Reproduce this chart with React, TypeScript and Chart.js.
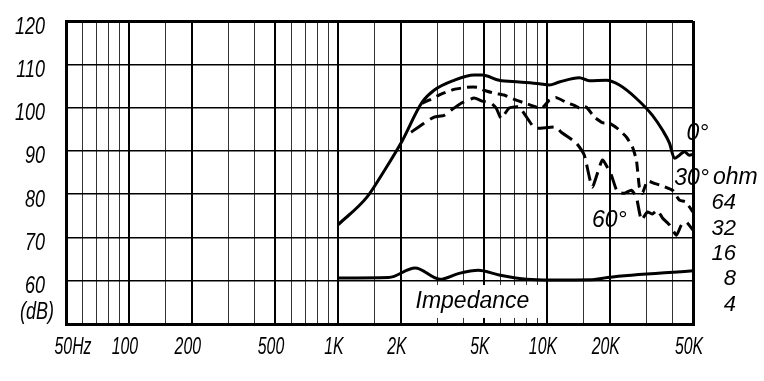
import React, { useEffect, useRef } from 'react';
import { Chart, registerables } from 'chart.js';

Chart.register(...registerables);

// ---- Axes ----
const gridFreqs = [50, 60, 70, 80, 90, 100, 150, 200, 300, 400, 500, 600, 700, 800, 900, 1000, 1500, 2000, 3000, 4000, 5000, 6000, 7000, 8000, 9000, 10000, 15000, 20000, 30000, 40000, 50000];
const labelFreqs = [50, 100, 200, 500, 1000, 2000, 5000, 10000, 20000, 50000];
const freqTickLabels = ['50Hz', '100', '200', '500', '1K', '2K', '5K', '10K', '20K', '50K'];
const dbTicks = [50, 60, 70, 80, 90, 100, 110, 120];
const dbTickLabels = ['', '60', '70', '80', '90', '100', '110', '120'];
const ohmTicks = [4, 8, 16, 32, 64];

// ---- 0° response ----
const freq0 = [1000, 1377, 1661, 2004, 2526, 2884, 3597, 4485, 4898, 5910, 7368, 9188, 10260, 11460, 14290, 15950, 19240, 22220, 26800, 31980, 35710, 38580, 40760, 43060, 45510, 48080, 50000];
const spl0 = [72.9, 79.3, 85.3, 91.8, 101.2, 104.0, 106.3, 107.5, 107.5, 106.3, 105.9, 105.5, 105.2, 105.9, 106.9, 106.2, 106.3, 105.2, 102.1, 98.2, 94.8, 91.8, 88.3, 89.0, 89.8, 89.0, 89.2];

// ---- 30° response ----
const freq30 = [2526, 2730, 3116, 3597, 4152, 4636, 5008, 5594, 6245, 6971, 7874, 8891, 9497, 10260, 11080, 12380, 13520, 14290, 15430, 16860, 18420, 19890, 21730, 24000, 25640, 26800, 27700, 28630, 30250, 32690, 35710, 39870, 43060, 46020, 50000];
const spl30 = [101.0, 101.7, 103.1, 104.2, 104.7, 104.7, 104.0, 103.3, 102.9, 101.9, 101.0, 100.1, 99.9, 101.7, 102.3, 101.2, 100.5, 99.9, 100.1, 97.8, 96.5, 96.4, 95.2, 93.2, 90.9, 87.9, 81.6, 80.2, 83.0, 82.5, 81.9, 80.9, 78.6, 78.2, 75.9];

// ---- 60° response ----
const freq60 = [2238, 2583, 2884, 3221, 3479, 3886, 4485, 4898, 5411, 5718, 6041, 6598, 7368, 8510, 8990, 11080, 11710, 13820, 15100, 16490, 18420, 20330, 21730, 23480, 25360, 26800, 28310, 30250, 31980, 33790, 35710, 38580, 41670, 44020, 46530, 50000];
const spl60 = [94.3, 96.4, 97.8, 98.2, 99.4, 101.0, 102.2, 101.5, 101.0, 99.9, 97.5, 99.9, 100.1, 95.9, 95.2, 95.5, 94.3, 91.8, 89.0, 81.6, 87.9, 84.4, 80.5, 80.2, 80.9, 79.3, 74.0, 75.9, 75.4, 76.3, 74.5, 72.9, 70.5, 72.9, 73.5, 71.7];

// ---- Impedance (ohm) ----
const freqImp = [1000, 1750, 2340, 3080, 3800, 4700, 5900, 8000, 10500, 16500, 19500, 50000];
const ohmImp = [8.3, 8.4, 10.9, 8.0, 9.4, 10.2, 9.0, 8.0, 7.85, 7.9, 8.4, 10.1];

const SANS = "'Liberation Sans', Arial, sans-serif";

const pts = (xs: number[], ys: number[]) => xs.map((x, i) => ({ x, y: ys[i] }));

// condensed italic text (the source uses a narrow typeface)
function narrowText(ctx: CanvasRenderingContext2D, text: string, x: number, y: number, align: CanvasTextAlign, sx: number) {
  ctx.save();
  ctx.translate(x, y);
  ctx.scale(sx, 1);
  ctx.textAlign = align;
  ctx.textBaseline = 'alphabetic';
  ctx.fillText(text, 0, 0);
  ctx.restore();
}

const annotations = {
  id: 'annotations',
  beforeDatasetsDraw(chart: any) {
    const { ctx, scales } = chart;
    const x = scales.x, y = scales.y;
    const x0 = x.getPixelForValue(2000) + 2;
    const x1 = x.getPixelForValue(10000) - 1;
    const y0 = y.getPixelForValue(59.0);
    const y1 = y.getPixelForValue(51.4);
    ctx.save();
    ctx.fillStyle = '#fff';
    ctx.fillRect(x0, y0, x1 - x0, y1 - y0);
    ctx.fillStyle = '#000';
    ctx.font = `italic 23px ${SANS}`;
    ctx.textAlign = 'center';
    ctx.textBaseline = 'middle';
    ctx.fillText('Impedance', x.getPixelForValue(4400), y.getPixelForValue(55.2));
    ctx.restore();
  },
  afterDraw(chart: any) {
    const { ctx, scales, chartArea } = chart;
    const x = scales.x, y = scales.y, y2 = scales.y2;
    ctx.save();
    ctx.fillStyle = '#000';
    // axis tick labels (condensed italic)
    ctx.font = `italic 24px ${SANS}`;
    labelFreqs.forEach((f, i) => {
      const px = x.getPixelForValue(f);
      const dx = i === 0 ? 7 : -4;
      narrowText(ctx, freqTickLabels[i], px + dx, chartArea.bottom + 30, 'center', 0.66);
    });
    dbTicks.forEach((v, i) => {
      if (!dbTickLabels[i]) return;
      narrowText(ctx, dbTickLabels[i], chartArea.left - 21, y.getPixelForValue(v) + 12.5, 'right', 0.75);
    });
    narrowText(ctx, '(dB)', chartArea.left - 12, y.getPixelForValue(52.8) + 7, 'right', 0.75);

    // curve and axis annotations
    ctx.font = `italic 23px ${SANS}`;
    ctx.textBaseline = 'middle';
    ctx.textAlign = 'left';
    ctx.fillText('0°', x.getPixelForValue(46500), y.getPixelForValue(93.9));
    ctx.fillText('ohm', chartArea.right + 20, y2.getPixelForValue(128));
    ctx.textAlign = 'right';
    ctx.fillText('30°', chartArea.right + 16, y.getPixelForValue(83.7));
    ctx.textAlign = 'center';
    ctx.fillText('60°', x.getPixelForValue(19900), y.getPixelForValue(73.8));
    ctx.restore();
  },
};

export default function App() {
  const ref = useRef<HTMLCanvasElement | null>(null);
  useEffect(() => {
    document.body.style.margin = '0';
    const canvas = ref.current!;
    const chart = new Chart(canvas, {
      type: 'line',
      data: {
        datasets: [
          { data: pts(freqImp, ohmImp), yAxisID: 'y2', borderColor: '#000', borderWidth: 3, pointRadius: 0, cubicInterpolationMode: 'monotone', fill: false },
          { data: pts(freq60, spl60), yAxisID: 'y', borderColor: '#000', borderWidth: 3, borderDash: [16, 7], pointRadius: 0, tension: 0.15, fill: false },
          { data: pts(freq30, spl30), yAxisID: 'y', borderColor: '#000', borderWidth: 3, borderDash: [10, 6], pointRadius: 0, tension: 0.15, fill: false },
          { data: pts(freq0, spl0), yAxisID: 'y', borderColor: '#000', borderWidth: 3, pointRadius: 0, cubicInterpolationMode: 'monotone', fill: false },
        ],
      },
      options: {
        responsive: false,
        animation: false,
        devicePixelRatio: 1,
        layout: { padding: { top: 21, left: 0, right: 28, bottom: 0 } },
        plugins: { legend: { display: false }, tooltip: { enabled: false } },
        scales: {
          x: {
            type: 'logarithmic',
            min: 50,
            max: 50000,
            afterBuildTicks: (s: any) => { s.ticks = gridFreqs.map((v) => ({ value: v })); },
            afterFit: (s: any) => { s.height = 57; s.paddingLeft = 0; s.paddingRight = 0; },
            ticks: { display: false, autoSkip: false },
            grid: {
              drawTicks: false,
              color: (c: any) => (labelFreqs.includes(c.tick?.value) ? '#000' : '#333'),
              lineWidth: (c: any) => { const v = c.tick?.value; if (v === 50 || v === 50000) return 3; return labelFreqs.includes(v) ? 2 : 1; },
            },
            border: { display: true, color: '#000', width: 3 },
          },
          y: {
            type: 'linear',
            min: 50,
            max: 120,
            afterBuildTicks: (s: any) => { s.ticks = dbTicks.map((v) => ({ value: v })); },
            afterFit: (s: any) => { s.width = 66; s.paddingTop = 0; s.paddingBottom = 0; },
            ticks: { display: false },
            grid: {
              drawTicks: false,
              color: '#000',
              lineWidth: (c: any) => (c.tick?.value === 120 ? 3 : 1.5),
            },
            border: { display: true, color: '#000', width: 3 },
          },
          y2: {
            type: 'logarithmic',
            position: 'right',
            min: 2.36,
            max: 9200,
            afterBuildTicks: (s: any) => { s.ticks = ohmTicks.map((v) => ({ value: v })); },
            afterFit: (s: any) => { s.width = 43; s.paddingTop = 0; s.paddingBottom = 0; },
            ticks: {
              autoSkip: false,
              crossAlign: 'far',
              padding: 18,
              color: '#000',
              font: { family: SANS, size: 22, style: 'italic' },
              callback: (v: any) => String(v),
            },
            grid: { display: false, drawTicks: false },
            border: { display: false },
          },
        },
      },
      plugins: [annotations],
    } as any);
    return () => chart.destroy();
  }, []);
  return (
    <div style={{ width: 764, height: 381 }}>
      <canvas ref={ref} width={764} height={381} />
    </div>
  );
}
